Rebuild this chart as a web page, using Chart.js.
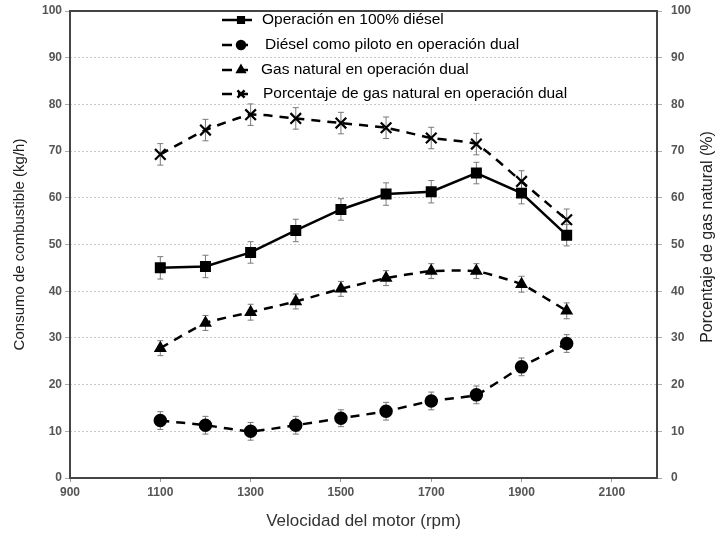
<!DOCTYPE html>
<html>
<head>
<meta charset="utf-8">
<script src="https://cdn.jsdelivr.net/npm/chart.js@4.4.0/dist/chart.umd.min.js"></script>
<style>
  html, body { margin: 0; padding: 0; background: #fff; }
  #wrap { width: 719px; height: 535px; }
</style>
</head>
<body>
<div id="wrap"><canvas id="myChart" width="719" height="535"></canvas></div>
<script>
// engine speed (rpm)
const rpm = [1100, 1200, 1300, 1400, 1500, 1600, 1700, 1800, 1900, 2000];
const xTicks = [900, 1100, 1300, 1500, 1700, 1900, 2100];

// fuel consumption (kg/h)
const diesel100 = [45, 45.3, 48.3, 53, 57.5, 60.8, 61.3, 65.3, 61, 52];
const dieselPiloto = [12.3, 11.3, 10, 11.3, 12.8, 14.3, 16.5, 17.8, 23.8, 28.8];
const gasNatural = [27.8, 33.2, 35.5, 37.8, 40.5, 42.8, 44.3, 44.3, 41.5, 35.8];
// natural gas percentage (%)
const porcentajeGas = [69.3, 74.5, 77.8, 77, 76, 75, 72.8, 71.5, 63.5, 55.3];

// error bar half-widths
const errDiesel100 = [2.4, 2.4, 2.3, 2.4, 2.3, 2.4, 2.4, 2.3, 2.3, 2.3];
const errPiloto = [1.9, 1.9, 1.9, 1.9, 1.8, 1.9, 1.9, 1.9, 1.9, 1.9];
const errGas = [1.6, 1.6, 1.7, 1.6, 1.6, 1.6, 1.6, 1.6, 1.7, 1.7];
const errPorcentaje = [2.3, 2.3, 2.3, 2.3, 2.3, 2.3, 2.3, 2.3, 2.3, 2.3];

const labels = [
    "Operación en 100% diésel",
    "Diésel como piloto en operación dual",
    "Gas natural en operación dual",
    "Porcentaje de gas natural en operación dual"
];
const rightTitle = "Porcentaje de gas natural (%)";

function pts(values) {
    return rpm.map((r, i) => ({ x: r, y: values[i] }));
}

const tickFont = { family: "'Liberation Sans', Arial, sans-serif", size: 12, weight: 'bold' };
const plain = (v) => String(v);

// error bars, drawn through the scales
const errorBars = {
    id: 'errorBars',
    beforeDatasetsDraw(chart) {
        const ctx = chart.ctx;
        ctx.save();
        ctx.strokeStyle = '#7a7a7a';
        ctx.lineWidth = 1;
        chart.data.datasets.forEach((ds, i) => {
            const meta = chart.getDatasetMeta(i);
            const yScale = chart.scales[ds.yAxisID];
            meta.data.forEach((pt, j) => {
                const v = ds.data[j].y;
                const e = ds.errors[j];
                const yTop = yScale.getPixelForValue(v + e);
                const yBot = yScale.getPixelForValue(v - e);
                ctx.beginPath();
                ctx.moveTo(pt.x, yTop); ctx.lineTo(pt.x, yBot);
                ctx.moveTo(pt.x - 3, yTop); ctx.lineTo(pt.x + 3, yTop);
                ctx.moveTo(pt.x - 3, yBot); ctx.lineTo(pt.x + 3, yBot);
                ctx.stroke();
            });
        });
        ctx.restore();
    }
};

// frame around plot area + right axis title (reads bottom to top)
const frame = {
    id: 'frame',
    afterDatasetsDraw(chart) {
        const a = chart.chartArea;
        const ctx = chart.ctx;
        ctx.save();
        ctx.strokeStyle = '#444';
        ctx.lineWidth = 2;
        ctx.strokeRect(a.left, a.top, a.right - a.left, a.bottom - a.top);
        ctx.translate(708, 237);
        ctx.rotate(-Math.PI / 2);
        ctx.fillStyle = '#222';
        ctx.font = "16px 'Liberation Sans', Arial, sans-serif";
        ctx.textAlign = 'center';
        ctx.textBaseline = 'middle';
        ctx.fillText(rightTitle, 0, 0);
        ctx.restore();
    }
};

// legend inside the plot, one entry per row
const insideLegend = {
    id: 'insideLegend',
    afterDraw(chart) {
        const ctx = chart.ctx;
        const rowsY = [20, 45, 70, 94];
        const textX = [262, 265, 261, 263];
        ctx.save();
        chart.data.datasets.forEach((ds, i) => {
            const y = rowsY[i];
            ctx.strokeStyle = '#000';
            ctx.lineWidth = 2.5;
            ctx.setLineDash([]);
            ctx.beginPath();
            if (i === 0) { ctx.moveTo(222, y); ctx.lineTo(252, y); }
            else { ctx.moveTo(222, y); ctx.lineTo(232, y); ctx.moveTo(238, y); ctx.lineTo(248, y); }
            ctx.stroke();
            Chart.helpers.drawPoint(ctx, {
                pointStyle: ds.pointStyle, radius: i === 3 ? 5 : 4, borderWidth: 2
            }, 241, y);
            ctx.fillStyle = '#000';
            ctx.font = "15.5px 'Liberation Sans', Arial, sans-serif";
            ctx.textBaseline = 'middle';
            ctx.fillText(ds.label, textX[i], y);
        });
        ctx.restore();
    }
};

const common = {
    borderColor: '#000',
    backgroundColor: '#000',
    pointBackgroundColor: '#000',
    pointBorderColor: '#000',
    borderWidth: 2.5,
    pointRadius: 5,
    pointHoverRadius: 5,
    fill: false,
    tension: 0.15
};

const data = {
    datasets: [
        Object.assign({}, common, {
            label: labels[0], data: pts(diesel100), errors: errDiesel100,
            yAxisID: 'y', pointStyle: 'rect', pointRadius: 6, tension: 0
        }),
        Object.assign({}, common, {
            label: labels[1], data: pts(dieselPiloto), errors: errPiloto,
            yAxisID: 'y', pointStyle: 'circle', pointRadius: 5.5, borderDash: [9, 7]
        }),
        Object.assign({}, common, {
            label: labels[2], data: pts(gasNatural), errors: errGas,
            yAxisID: 'y', pointStyle: 'triangle', borderDash: [9, 7]
        }),
        Object.assign({}, common, {
            label: labels[3], data: pts(porcentajeGas), errors: errPorcentaje,
            yAxisID: 'y1', pointStyle: 'crossRot', pointRadius: 7.5, pointBorderWidth: 2.2, borderDash: [9, 7]
        })
    ]
};

const config = {
    type: 'line',
    data,
    options: {
        responsive: false,
        animation: false,
        layout: { padding: { top: 11, left: 0, right: 0, bottom: 0 } },
        plugins: {
            legend: { display: false },
            tooltip: { enabled: false }
        },
        scales: {
            x: {
                type: 'linear',
                min: 900,
                max: 2200,
                afterBuildTicks: (s) => { s.ticks = xTicks.map(v => ({ value: v })); },
                afterFit: (s) => { s.height = 57; s.paddingLeft = 0; s.paddingRight = 0; },
                grid: { color: 'transparent', drawTicks: true, tickLength: 4, tickColor: '#999' },
                border: { display: false },
                ticks: { font: tickFont, color: '#555', padding: 3, maxRotation: 0, callback: plain },
                title: { display: true, text: 'Velocidad del motor (rpm)', font: { family: "'Liberation Sans', Arial, sans-serif", size: 17 }, color: '#333', padding: { top: 4, bottom: 3 } }
            },
            y: {
                position: 'left',
                min: 0,
                max: 100,
                afterFit: (s) => { s.width = 70; s.paddingTop = 0; s.paddingBottom = 0; },
                grid: { color: '#c8c8c8', lineWidth: 1, tickLength: 5, tickColor: '#aaa' },
                border: { display: false, dash: [2, 2] },
                ticks: { stepSize: 10, font: tickFont, color: '#555', padding: 3, callback: plain },
                title: { display: true, text: 'Consumo de combustible (kg/h)', font: { family: "'Liberation Sans', Arial, sans-serif", size: 15 }, color: '#222', padding: { top: 11, bottom: 4 } }
            },
            y1: {
                position: 'right',
                min: 0,
                max: 100,
                afterFit: (s) => { s.width = 62; s.paddingTop = 0; s.paddingBottom = 0; },
                grid: { drawOnChartArea: false, tickLength: 5, tickColor: '#aaa' },
                border: { display: false },
                ticks: { stepSize: 10, font: tickFont, color: '#555', padding: 9, callback: plain },
                title: { display: false }
            }
        }
    },
    plugins: [errorBars, frame, insideLegend]
};

myChart = new Chart(document.getElementById('myChart'), config);
</script>
</body>
</html>
